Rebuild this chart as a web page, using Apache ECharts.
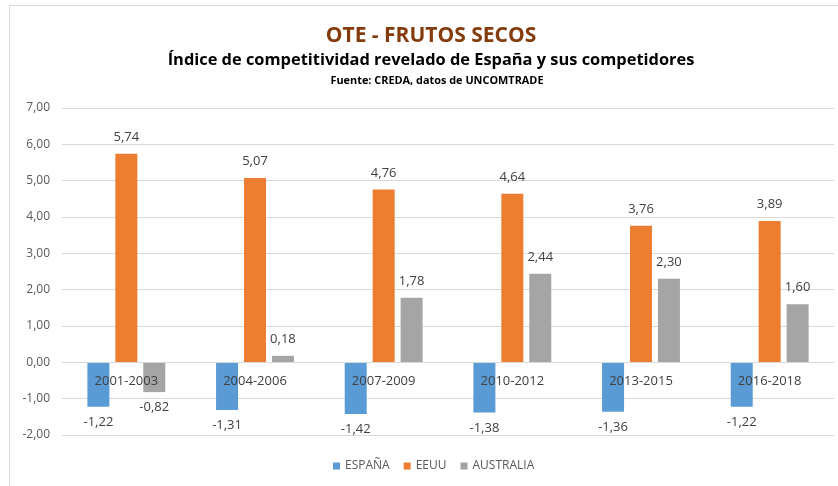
<!DOCTYPE HTML>
<html>
	<head>
		<meta http-equiv="Content-type" content="text/html; charset=UTF-8" />
		<script type="text/javascript" src="https://cdn.jsdelivr.net/npm/echarts@6/dist/echarts.min.js"></script>
		<style>
			html, body { margin: 0; padding: 0; background: #fff; }
		</style>
		<script type="text/javascript">
			var periodos = ['2001-2003', '2004-2006', '2007-2009', '2010-2012', '2013-2015', '2016-2018'];
			var espana = [-1.22, -1.31, -1.42, -1.38, -1.36, -1.22];
			var eeuu = [5.74, 5.07, 4.76, 4.64, 3.76, 3.89];
			var australia = [-0.82, 0.18, 1.78, 2.44, 2.30, 1.60];

			var fuente = "'Open Sans', sans-serif";

			function coma(v) {
				return v.toFixed(2).replace('.', ',');
			}

			function serie(nombre, datos, color) {
				return {
					name: nombre,
					type: 'bar',
					z: 2,
					data: datos.map(function (v) {
						return {
							value: v,
							label: { position: v < 0 ? 'bottom' : 'top', distance: v < 0 ? 9 : 10 }
						};
					}),
					barWidth: 22,
					barGap: '27%',
					itemStyle: { color: color },
					label: {
						show: true,
						color: '#404040',
						fontFamily: fuente,
						fontSize: 13,
						formatter: function (p) { return coma(p.value); }
					}
				};
			}

			var option = {
				animation: false,
				graphic: [{
					type: 'rect',
					shape: { x: 9.5, y: 5.5, width: 900, height: 600 },
					style: { fill: 'none', stroke: '#d9d9d9', lineWidth: 1 },
					silent: true
				}],
				title: [{
					text: 'OTE - FRUTOS SECOS',
					left: 431,
					textAlign: 'center',
					top: 26,
					padding: 0,
					textStyle: { fontFamily: fuente, fontWeight: 'bold', fontSize: 21, color: '#843C0C' }
				}, {
					text: 'Índice de competitividad revelado de España y sus competidores',
					left: 431,
					textAlign: 'center',
					top: 52,
					padding: 0,
					textStyle: { fontFamily: fuente, fontWeight: 'bold', fontSize: 16.4, color: '#000' }
				}, {
					text: 'Fuente: CREDA, datos de UNCOMTRADE',
					left: 437,
					textAlign: 'center',
					top: 75,
					padding: 0,
					textStyle: { fontFamily: fuente, fontWeight: 'bold', fontSize: 10.9, color: '#000' }
				}],
				grid: { left: 62, right: 4, top: 108, bottom: 51 },
				legend: {
					bottom: 9,
					left: 328,
					icon: 'rect',
					itemWidth: 7,
					itemHeight: 7,
					itemGap: 14,
					textStyle: { fontFamily: fuente, fontSize: 12, color: '#595959' },
					data: ['ESPAÑA', 'EEUU', 'AUSTRALIA']
				},
				xAxis: {
					type: 'category',
					data: periodos,
					z: 5,
					axisLine: { onZero: true, lineStyle: { color: '#d9d9d9' } },
					axisTick: { show: false },
					axisLabel: { color: '#404040', fontFamily: fuente, fontSize: 13, margin: -60 }
				},
				yAxis: {
					type: 'value',
					min: -2,
					max: 7,
					interval: 1,
					axisLine: { show: false },
					axisTick: { show: false },
					splitLine: { lineStyle: { color: '#d9d9d9' } },
					axisLabel: {
						color: '#595959',
						fontFamily: fuente,
						fontSize: 12,
						margin: 12,
						formatter: function (v) { return coma(v); }
					}
				},
				series: [
					serie('ESPAÑA', espana, '#5B9BD5'),
					serie('EEUU', eeuu, '#ED7D31'),
					serie('AUSTRALIA', australia, '#A5A5A5')
				]
			};

			window.onload = function () {
				var myChart = echarts.init(document.getElementById('div_1'));
				myChart.setOption(option);
			};
		</script>
	</head>
	<body>
		<div id="div_1" style="width: 838px;height:486px;"></div>
	</body>
</html>
